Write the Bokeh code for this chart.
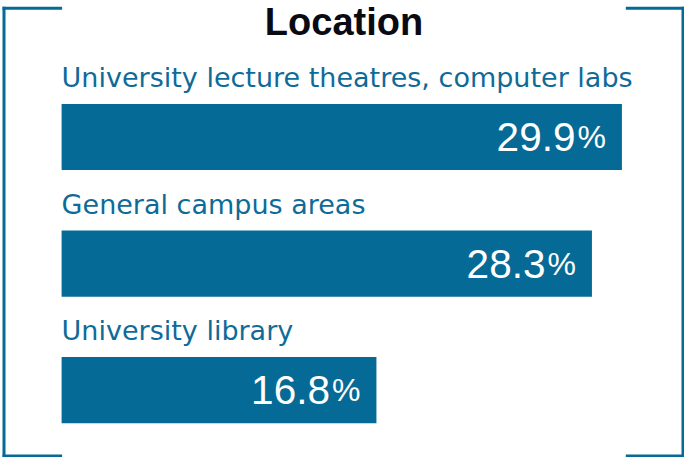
from bokeh.plotting import figure
from bokeh.models import ColumnDataSource, Range1d, BoxAnnotation, Label
from bokeh.core.properties import value
from bokeh.embed import file_html
from bokeh.resources import INLINE

title_text = "Location"
categories = ["University lecture theatres, computer labs", "General campus areas", "University library"]
values = [29.9, 28.3, 16.8]

W, H = 684, 457
BLUE = "#066a96"
TEXT_BLUE = "#0e6b98"
px_per_unit = 18.74
x0_px = 61.1
row_px = 126.6
first_center_px = 136.5
bar_px = 66.2
BASE_FIX = 0.37  # bokeh alphabetic baseline shift (em)

x_start = -x0_px / px_per_unit
x_end = (W - x0_px) / px_per_unit
y_top = -first_center_px / row_px
y_bottom = (H - first_center_px) / row_px

p = figure(width=W, height=H, output_backend="svg", toolbar_location=None,
           x_range=Range1d(x_start, x_end), y_range=Range1d(y_bottom, y_top),
           x_axis_location=None, y_axis_location=None, min_border=0)
p.grid.visible = False
p.outline_line_color = None
p.background_fill_color = "white"
p.border_fill_color = "white"

src = ColumnDataSource(dict(
    cat=categories,
    val=values,
    y=list(range(len(categories))),
    num=[f"{v:.1f}" for v in values],
    pct=["%"] * len(values),
    zero=[0] * len(values),
))

p.hbar(y="y", left="zero", right="val", height=bar_px / row_px, source=src,
       fill_color=BLUE, line_color=None)

cat_fs = 27
p.text(x="zero", y="y", text="cat", source=src, text_color=TEXT_BLUE,
       text_font=value("DejaVu Sans"), text_font_size=f"{cat_fs}px",
       text_baseline="alphabetic", text_align="left",
       y_offset=-49.3 - BASE_FIX * cat_fs)

num_fs, pct_fs = 40.5, 32
p.text(x="val", y="y", text="num", source=src, text_color="white",
       text_font=value("Liberation Sans"), text_font_size=f"{num_fs}px",
       text_baseline="alphabetic", text_align="right", x_offset=-46.5,
       y_offset=15.2 - BASE_FIX * num_fs)
p.text(x="val", y="y", text="pct", source=src, text_color="white",
       text_font=value("Liberation Sans"), text_font_size=f"{pct_fs}px",
       text_baseline="alphabetic", text_align="right", x_offset=-16,
       y_offset=15.2 - BASE_FIX * num_fs)

title_fs = 38
p.add_layout(Label(x=343.5, y=H - (35.5 - BASE_FIX * title_fs), x_units="screen", y_units="screen",
                   text=title_text, text_font="Liberation Sans", text_font_size=f"{title_fs}px",
                   text_font_style="bold", text_color="#0a0a12", text_align="center",
                   text_baseline="alphabetic"))

# brackets (canvas units, top-left origin)
boxes = [
    (2, 5, 6.3, H),            # left vertical
    (2, 61.6, 6.3, 9.2),       # left top
    (2, 61.6, H - 3, H),       # left bottom
    (W - 3, W, 6.3, H),        # right vertical
    (625.3, W, 6.3, 9.2),      # right top
    (625.3, W, H - 3, H),      # right bottom
]
for l, r, t, b in boxes:
    p.add_layout(BoxAnnotation(left=l, right=r, top=t, bottom=b,
                               left_units="canvas", right_units="canvas",
                               top_units="canvas", bottom_units="canvas",
                               fill_color=BLUE, fill_alpha=1, line_color=None))

open("out.html", "w").write(file_html(p, INLINE))
